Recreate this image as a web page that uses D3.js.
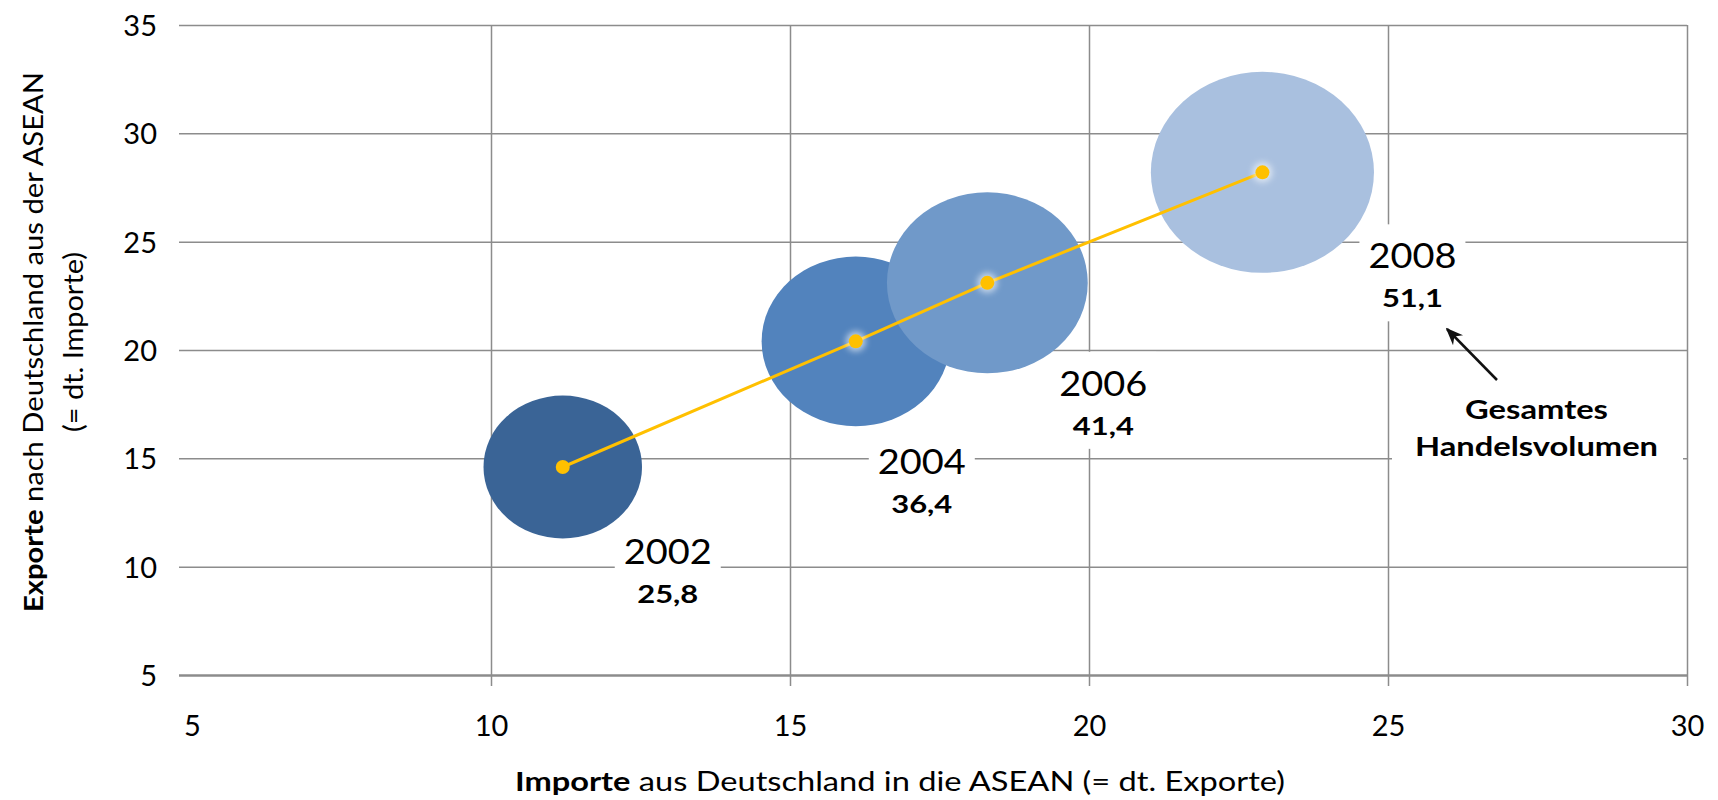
<!doctype html>
<html lang="de">
<head>
<meta charset="UTF-8">
<title>Handel Deutschland – ASEAN</title>
<style>
  body { margin: 0; background: #fff; font-family: Lato, "Open Sans", sans-serif; }
  .grid line { stroke: #8c8c8c; stroke-width: 1.5px; }
  .tick text { font-family: Lato, sans-serif; font-size: 29px; fill: #000; }
  .year { font-size: 35px; fill: #000; }
  .vol { font-size: 25.5px; font-weight: 700; fill: #000; }
  .title { font-size: 26px; fill: #000; }
  .note { font-size: 27px; font-weight: 700; fill: #000; }
</style>
</head>
<body>
<svg id="chart" width="1718" height="800"></svg>
<script src="https://d3js.org/d3.v7.min.js"></script>
<script>
// Werte in Mrd. Euro
const years   = ["2002", "2004", "2006", "2008"];
const importe = [11.2, 16.1, 18.3, 22.9];   // x: Importe aus Deutschland
const exporte = [14.6, 20.4, 23.1, 28.2];   // y: Exporte nach Deutschland
const volumen = [25.8, 36.4, 41.4, 51.1];   // Blasengröße: Handelsvolumen
const xTicks = [5, 10, 15, 20, 25, 30];
const yTicks = [5, 10, 15, 20, 25, 30, 35];
const colors = ["#3a6496", "#5283bd", "#7099c9", "#a9c0df"];

// Lage der Beschriftungen relativ zur Blasenmitte (px)
const labelDx = [105, 66, 116, 150];
const labelDy = [101, 137, 117, 100];

const plotL = 192, plotR = 1687, plotT = 25, plotB = 675;

const svg = d3.select("#chart");
const x = d3.scaleLinear().domain([5, 30]).range([plotL, plotR]);
const y = d3.scaleLinear().domain([5, 35]).range([plotB, plotT]);
const r = d3.scaleSqrt().domain([0, 51.1]).range([0, 100.5]);
const stretch = 1.11; // das Bild ist waagerecht etwas gedehnt
const fmt = d3.formatLocale({ decimal: ",", thousands: ".", grouping: [3], currency: ["", " €"] }).format(".1f");

// Gitternetz + Achsen
svg.append("g")
  .attr("class", "grid")
  .attr("transform", `translate(${plotL},0)`)
  .call(d3.axisLeft(y).tickValues(yTicks).tickSize(13).tickPadding(22))
  .call(g => g.select(".domain").remove())
  .call(g => g.selectAll(".tick line").attr("x1", -13).attr("x2", plotR - plotL))
  .call(g => g.selectAll(".tick text").attr("dy", "0.36em"))
  .call(g => g.selectAll(".tick").filter(d => d === 5).select("line").style("stroke-width", "2.5px"));

svg.append("g")
  .attr("class", "grid")
  .attr("transform", `translate(0,${plotB})`)
  .call(d3.axisBottom(x).tickValues(xTicks).tickSize(11))
  .call(g => g.select(".domain").remove())
  .call(g => g.selectAll(".tick line").attr("y1", d => d === 5 ? 0 : plotT - plotB).attr("y2", d => d === 5 ? 0 : 11))
  .call(g => g.selectAll(".tick text").attr("dy", null).attr("y", 61));

const pts = years.map((yr, i) => ({
  year: yr, cx: x(importe[i]), cy: y(exporte[i]), v: volumen[i], i: i
}));

// weiße Beschriftungsfelder (unterbrechen das Gitternetz)
svg.append("g").selectAll("rect")
  .data(pts)
  .join("rect")
  .attr("x", d => d.cx + labelDx[d.i] - 53)
  .attr("y", d => d.cy + labelDy[d.i] - 48)
  .attr("width", 106)
  .attr("height", 97)
  .attr("fill", "#fff");

// Feld hinter dem Hinweistext
svg.append("rect")
  .attr("x", x(25) + 4).attr("y", 388)
  .attr("width", x(30) - x(25) - 8).attr("height", 84)
  .attr("fill", "#fff");

// Blasen
svg.append("g").selectAll("ellipse")
  .data(pts)
  .join("ellipse")
  .attr("cx", d => d.cx)
  .attr("cy", d => d.cy)
  .attr("rx", d => r(d.v) * stretch)
  .attr("ry", d => r(d.v))
  .attr("fill", (d, i) => colors[i]);

// Verbindungslinie
svg.append("path")
  .datum(pts)
  .attr("fill", "none")
  .attr("stroke", "#ffc000")
  .attr("stroke-width", 3)
  .attr("d", d3.line().x(d => d.cx).y(d => d.cy));

const defs = svg.append("defs");
defs.append("filter").attr("id", "glow")
  .attr("x", "-100%").attr("y", "-100%").attr("width", "300%").attr("height", "300%")
  .append("feGaussianBlur").attr("stdDeviation", 3);

svg.append("g").selectAll("circle.halo")
  .data(pts.slice(1))
  .join("circle")
  .attr("class", "halo")
  .attr("cx", d => d.cx).attr("cy", d => d.cy).attr("r", 10)
  .attr("fill", "#fff").attr("opacity", 0.6)
  .attr("filter", "url(#glow)");

svg.append("g").selectAll("circle.dot")
  .data(pts)
  .join("circle")
  .attr("class", "dot")
  .attr("cx", d => d.cx).attr("cy", d => d.cy).attr("r", 7)
  .attr("fill", "#ffc000");

// Beschriftungen
const lab = svg.append("g").selectAll("g")
  .data(pts)
  .join("g")
  .attr("transform", d => `translate(${d.cx + labelDx[d.i]},${d.cy + labelDy[d.i]})`)
  .attr("text-anchor", "middle");
lab.append("text").attr("class", "year").attr("y", -4)
  .attr("textLength", 88).attr("lengthAdjust", "spacingAndGlyphs")
  .text(d => d.year);
lab.append("text").attr("class", "vol").attr("y", 35)
  .attr("textLength", 61).attr("lengthAdjust", "spacingAndGlyphs")
  .text(d => fmt(d.v));

// Achsentitel
const xt = svg.append("text").attr("class", "title")
  .attr("x", 900).attr("y", 791).attr("text-anchor", "middle")
  .attr("textLength", 770).attr("lengthAdjust", "spacingAndGlyphs");
xt.append("tspan").attr("font-weight", 700).text("Importe");
xt.append("tspan").text(" aus Deutschland in die ASEAN (= dt. Exporte)");

const yt = svg.append("g").attr("transform", "translate(0,342) rotate(-90)");
const yt1 = yt.append("text").attr("class", "title").attr("y", 43).attr("text-anchor", "middle")
  .attr("textLength", 540).attr("lengthAdjust", "spacingAndGlyphs");
yt1.append("tspan").attr("font-weight", 700).text("Exporte");
yt1.append("tspan").text(" nach Deutschland aus der ASEAN");
yt.append("text").attr("class", "title").attr("y", 83).attr("text-anchor", "middle")
  .attr("textLength", 180).attr("lengthAdjust", "spacingAndGlyphs")
  .text("(= dt. Importe)");

// Hinweis
defs.append("marker").attr("id", "arrow")
  .attr("viewBox", "0 0 10 10").attr("refX", 9).attr("refY", 5)
  .attr("markerWidth", 7).attr("markerHeight", 7).attr("orient", "auto")
  .append("path").attr("d", "M0,1 L10,5 L0,9 L3,5 Z").attr("fill", "#111");

svg.append("line")
  .attr("x1", 1497).attr("y1", 380).attr("x2", 1447).attr("y2", 329)
  .attr("stroke", "#111").attr("stroke-width", 2.5)
  .attr("marker-end", "url(#arrow)");

svg.append("text").attr("class", "note").attr("x", 1536.5).attr("y", 419)
  .attr("text-anchor", "middle")
  .attr("textLength", 143).attr("lengthAdjust", "spacingAndGlyphs")
  .text("Gesamtes");
svg.append("text").attr("class", "note").attr("x", 1536.5).attr("y", 456)
  .attr("text-anchor", "middle")
  .attr("textLength", 243).attr("lengthAdjust", "spacingAndGlyphs")
  .text("Handelsvolumen");
</script>
</body>
</html>
